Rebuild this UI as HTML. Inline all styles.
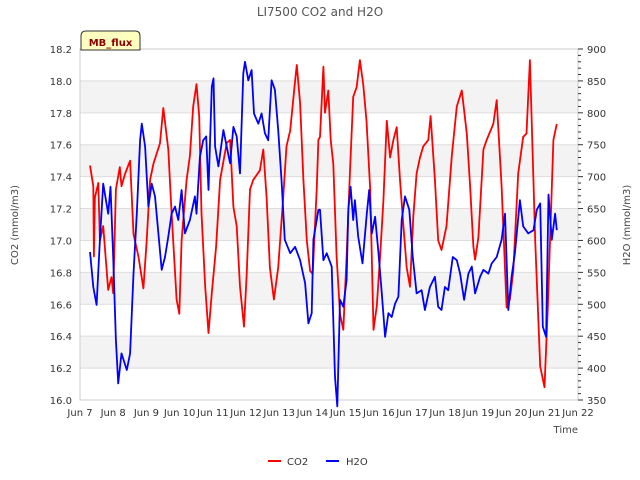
<!DOCTYPE html>
<html><head><meta charset="utf-8"><style>
html,body{margin:0;padding:0;background:#fff;}
svg{display:block;font-family:"DejaVu Sans","Liberation Sans",sans-serif;}
</style></head><body>
<svg id="chart" width="640" height="480" viewBox="0 0 640 480" xmlns="http://www.w3.org/2000/svg">
<text x="320" y="16" text-anchor="middle" font-size="12" fill="#555">LI7500 CO2 and H2O</text>
<g id="bands"></g>
<g id="grid"></g>
<rect x="80" y="49" width="498" height="351" fill="none" stroke="#ccc" stroke-width="1"/>
<g id="xaxis"></g>
<g id="yleft"></g>
<g id="yright"></g>
<g id="series"></g>
<text x="578" y="433" text-anchor="end" font-size="10" fill="#444">Time</text>
<text transform="translate(18,225) rotate(-90)" text-anchor="middle" font-size="10" fill="#444">CO2 (mmol/m3)</text>
<text transform="translate(630,225) rotate(-90)" text-anchor="middle" font-size="10" fill="#444">H2O (mmol/m3)</text>
<g>
<path d="M81,50 L81,36 Q81,31 86,31 L135,31 Q140,31 140,36 L140,50 Z" fill="#ffffc0" stroke="#333" stroke-width="1"/>
<text x="110.5" y="46" text-anchor="middle" font-size="10" font-weight="bold" fill="#8b0000">MB_flux</text>
</g>
<g>
<g><line x1="268" y1="461" x2="281" y2="461" stroke="#f00" stroke-width="2"/><text x="287" y="465" font-size="10" fill="#333">CO2</text></g>
<g><line x1="326" y1="461" x2="339" y2="461" stroke="#00f" stroke-width="2"/><text x="346" y="465" font-size="10" fill="#333">H2O</text></g>
</g>
</svg>
<script>
const xTickLabels=["Jun 7","Jun 8","Jun 9","Jun 10","Jun 11","Jun 12","Jun 13","Jun 14","Jun 15","Jun 16","Jun 17","Jun 18","Jun 19","Jun 20","Jun 21","Jun 22"];
const co2Ticks=[16.0,16.2,16.4,16.6,16.8,17.0,17.2,17.4,17.6,17.8,18.0,18.2];
const h2oTicks=[350,400,450,500,550,600,650,700,750,800,850,900];
const co2Days=[0.30,0.40,0.42,0.45,0.55,0.60,0.70,0.85,0.95,1.00,1.08,1.20,1.25,1.36,1.51,1.61,1.76,1.91,2.01,2.11,2.21,2.41,2.51,2.66,2.76,2.91,2.99,3.06,3.21,3.31,3.41,3.51,3.59,3.66,3.77,3.87,3.97,4.10,4.22,4.42,4.52,4.62,4.72,4.82,4.94,5.02,5.12,5.22,5.42,5.52,5.62,5.72,5.84,5.97,6.12,6.22,6.33,6.48,6.53,6.63,6.73,6.83,6.93,7.01,7.13,7.18,7.23,7.33,7.38,7.48,7.55,7.63,7.73,7.83,7.93,8.03,8.13,8.23,8.33,8.43,8.53,8.63,8.74,8.84,8.94,9.04,9.14,9.24,9.34,9.44,9.54,9.64,9.74,9.84,9.94,10.04,10.14,10.24,10.34,10.49,10.56,10.69,10.79,10.89,11.04,11.20,11.35,11.50,11.65,11.75,11.85,11.90,12.00,12.15,12.25,12.45,12.55,12.70,12.85,12.95,13.05,13.20,13.35,13.45,13.55,13.71,13.86,13.99,14.09,14.26,14.36];
const co2Values=[17.47,17.34,16.90,17.27,17.36,17.00,17.09,16.69,16.77,16.67,17.32,17.46,17.34,17.42,17.50,17.04,16.90,16.70,17.00,17.38,17.48,17.61,17.83,17.57,17.17,16.63,16.54,17.00,17.38,17.53,17.84,17.98,17.78,17.17,16.71,16.42,16.67,16.96,17.38,17.61,17.63,17.21,17.09,16.71,16.46,16.79,17.32,17.38,17.44,17.57,17.27,16.83,16.63,16.83,17.27,17.59,17.69,18.00,18.10,17.86,17.38,17.00,16.81,16.79,17.32,17.63,17.65,18.09,17.80,17.94,17.63,17.48,16.90,16.54,16.44,16.90,17.42,17.90,17.96,18.13,17.98,17.75,17.32,16.44,16.59,16.90,17.25,17.75,17.52,17.63,17.71,17.38,17.09,16.83,16.71,17.15,17.42,17.52,17.59,17.63,17.78,17.38,17.00,16.94,17.09,17.53,17.84,17.94,17.67,17.34,16.96,16.88,17.02,17.57,17.63,17.73,17.88,17.34,16.58,16.63,16.81,17.42,17.65,17.67,18.13,17.00,16.21,16.08,16.58,17.63,17.73];
const h2oDays=[0.30,0.40,0.50,0.60,0.70,0.85,0.92,1.00,1.08,1.15,1.25,1.41,1.51,1.61,1.71,1.81,1.86,1.96,2.06,2.16,2.26,2.36,2.46,2.56,2.66,2.76,2.86,2.96,3.06,3.16,3.31,3.46,3.51,3.61,3.71,3.80,3.87,3.97,4.02,4.07,4.17,4.32,4.42,4.52,4.62,4.72,4.82,4.92,4.97,5.07,5.17,5.24,5.37,5.47,5.57,5.67,5.77,5.87,5.97,6.07,6.17,6.33,6.48,6.63,6.78,6.88,6.98,7.03,7.18,7.23,7.33,7.43,7.58,7.68,7.75,7.83,7.93,8.03,8.08,8.15,8.23,8.28,8.38,8.51,8.64,8.71,8.79,8.89,8.99,9.09,9.19,9.29,9.39,9.49,9.59,9.69,9.79,9.92,10.02,10.14,10.29,10.39,10.54,10.69,10.79,10.89,10.99,11.09,11.23,11.35,11.45,11.57,11.70,11.80,11.90,12.05,12.15,12.30,12.40,12.55,12.70,12.80,12.90,13.00,13.10,13.25,13.35,13.50,13.66,13.76,13.86,13.94,14.04,14.11,14.21,14.31,14.36];
const h2oValues=[582,527,499,601,689,642,684,574,444,376,423,397,423,548,642,757,783,747,653,689,669,611,554,574,606,642,653,632,679,611,632,669,642,731,757,763,679,841,854,747,716,773,747,721,778,763,705,862,880,851,867,799,783,799,768,757,851,836,773,695,601,580,590,569,533,470,486,601,648,648,569,580,559,386,340,507,496,538,648,684,632,663,606,564,642,679,611,637,580,517,449,486,480,501,512,632,669,648,575,517,522,491,527,543,496,491,527,522,574,569,548,507,548,559,517,543,554,548,564,574,601,642,491,543,580,663,622,611,616,648,658,465,449,672,601,642,616];

const NS="http://www.w3.org/2000/svg";
const X0=80,X1=578,Y0=400,Y1=49;
function xScale(d){return X0+(X1-X0)*d/15;}
function yCo2(v){return Y0-(Y0-Y1)*(v-16.0)/2.2;}
function yH2o(v){return Y0-(Y0-Y1)*(v-350)/550;}
function mk(tag,attrs,parent){const e=document.createElementNS(NS,tag);for(const k in attrs)e.setAttribute(k,attrs[k]);parent.appendChild(e);return e;}

const bands=document.getElementById('bands'),grid=document.getElementById('grid');
for(let i=0;i<co2Ticks.length-1;i++){
  if(i%2===1){
    const r=mk('rect',{x:X0,y:yCo2(co2Ticks[i+1]),width:X1-X0,height:yCo2(co2Ticks[i])-yCo2(co2Ticks[i+1]),fill:'#f3f3f3'},bands);
    
    
  }
}
const yl=document.getElementById('yleft');
co2Ticks.forEach(v=>{
  const y=yCo2(v);
  const l=mk('line',{x1:X0,x2:X1,y1:y,y2:y,stroke:'#ddd','stroke-width':1},grid);
  
  
  const t=mk('text',{x:72,y:y+4,'text-anchor':'end','font-size':10,fill:'#333'},yl);
  
  
  t.textContent=v.toFixed(1);
});
const yr=document.getElementById('yright');
h2oTicks.forEach(v=>{
  const y=yH2o(v);
  const t=mk('text',{x:587,y:y+4,'font-size':10,fill:'#333'},yr);
  
  
  t.textContent=v;
});
for(let v=350;v<=900;v+=10){
  const y=yH2o(v);const major=(v%50===0);
  const l=mk('line',{x1:X1,x2:X1+(major?5:3),y1:y,y2:y,stroke:'#333','stroke-width':1},yr);
  
  
}
const xa=document.getElementById('xaxis');
xTickLabels.forEach((s,i)=>{
  const x=xScale(i);
  const t=mk('text',{x:x,y:416,'text-anchor':'middle','font-size':10,fill:'#333'},xa);
  
  
  t.textContent=s;
});
const sg=document.getElementById('series');
function line(days,vals,ys,color,name){
  const d=days.map((dd,i)=>(i?'L':'M')+xScale(dd).toFixed(1)+','+ys(vals[i]).toFixed(1)).join(' ');
  const p=mk('path',{d:d,fill:'none',stroke:color,'stroke-width':1.8,'stroke-linejoin':'round'},sg);
  
  
}
line(co2Days,co2Values,yCo2,'#ff0000','co2-line');
line(h2oDays,h2oValues,yH2o,'#0000ff','h2o-line');
</script>
</body></html>
